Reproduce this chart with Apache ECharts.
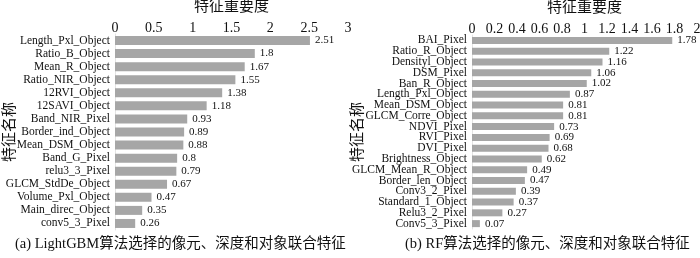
<!DOCTYPE html>
<html><head><meta charset="utf-8">
<script src="https://cdn.jsdelivr.net/npm/echarts@6/dist/echarts.min.js"></script>
<style>html,body{margin:0;padding:0;background:#fff}#c{width:700px;height:258px}</style>
</head><body><div id="c"></div>
<script>
const leftCategories = ["Length_Pxl_Object","Ratio_B_Object","Mean_R_Object","Ratio_NIR_Object","12RVI_Object","12SAVI_Object","Band_NIR_Pixel","Border_ind_Object","Mean_DSM_Object","Band_G_Pixel","relu3_3_Pixel","GLCM_StdDe_Object","Volume_Pxl_Object","Main_direc_Object","conv5_3_Pixel"];
const leftValues = [2.51,1.8,1.67,1.55,1.38,1.18,0.93,0.89,0.88,0.8,0.79,0.67,0.47,0.35,0.26];
const leftTicks = {min:0, max:3, interval:0.5};
const rightCategories = ["BAI_Pixel","Ratio_R_Object","Densityl_Object","DSM_Pixel","Ban_R_Object","Length_Pxl_Object","Mean_DSM_Object","GLCM_Corre_Object","NDVI_Pixel","RVI_Pixel","DVI_Pixel","Brightness_Object","GLCM_Mean_R_Object","Border_len_Object","Conv3_2_Pixel","Standard_1_Object","Relu3_2_Pixel","Conv5_3_Pixel"];
const rightValues = [1.78,1.22,1.16,1.06,1.02,0.87,0.81,0.81,0.73,0.69,0.68,0.62,0.49,0.47,0.39,0.37,0.27,0.07];
const rightTicks = {min:0, max:2, interval:0.2};
const xTitle = "特征重要度";
const yTitle = "特征名称";
const captionA = "(a) LightGBM算法选择的像元、深度和对象联合特征";
const captionB = "(b) RF算法选择的像元、深度和对象联合特征";

const FONT = "'Liberation Serif','Noto Sans CJK SC',serif";
const barColor = '#a6a6a6';

function xAxisCfg(idx, t){
  return {gridIndex:idx, type:'value', position:'top', min:t.min, max:t.max, interval:t.interval,
    name:xTitle, nameLocation:'middle', nameGap:19, nameMoveOverlap:false,
    nameTextStyle:{fontFamily:FONT, fontSize:15, color:'#111'},
    axisLine:{show:false}, axisTick:{show:false}, splitLine:{show:false},
    axisLabel:{fontFamily:FONT, fontSize:14, color:'#111', margin:-1}};
}
function yAxisCfg(idx, cats, gap){
  return {gridIndex:idx, type:'category', data:cats, inverse:true,
    name:yTitle, nameLocation:'middle', nameGap:gap, nameRotate:90, nameMoveOverlap:false,
    nameTextStyle:{fontFamily:FONT, fontSize:15, color:'#111'},
    axisLine:{show:true, lineStyle:{color:'#e4e4e4', width:1}}, axisTick:{show:false},
    axisLabel:{interval:0, fontFamily:FONT, fontSize:11.5, color:'#111', margin:5}};
}
function barSeries(idx, vals, w){
  return {type:'bar', xAxisIndex:idx, yAxisIndex:idx, data:vals, barWidth:w,
    itemStyle:{color:barColor}, silent:true,
    label:{show:true, position:'right', distance:5, fontFamily:FONT, fontSize:11, color:'#111'}};
}

const chart = echarts.init(document.getElementById('c'), null, {renderer:'canvas'});
chart.setOption({
  animation:false,
  grid:[
    {left:115, right:352, top:34, height:196, outerBoundsMode:'none', containLabel:false},
    {left:472, right:3, top:35, height:194, outerBoundsMode:'none', containLabel:false}
  ],
  xAxis:[xAxisCfg(0,leftTicks), xAxisCfg(1,rightTicks)],
  yAxis:[yAxisCfg(0,leftCategories,97), yAxisCfg(1,rightCategories,106)],
  series:[barSeries(0,leftValues,9), barSeries(1,rightValues,7)],
  graphic:[
    {type:'text', left:15, top:237, style:{text:captionA, font:"14.5px "+FONT, fill:'#111'}},
    {type:'text', left:405, top:237, style:{text:captionB, font:"14.5px "+FONT, fill:'#111'}}
  ]
});
</script></body></html>
